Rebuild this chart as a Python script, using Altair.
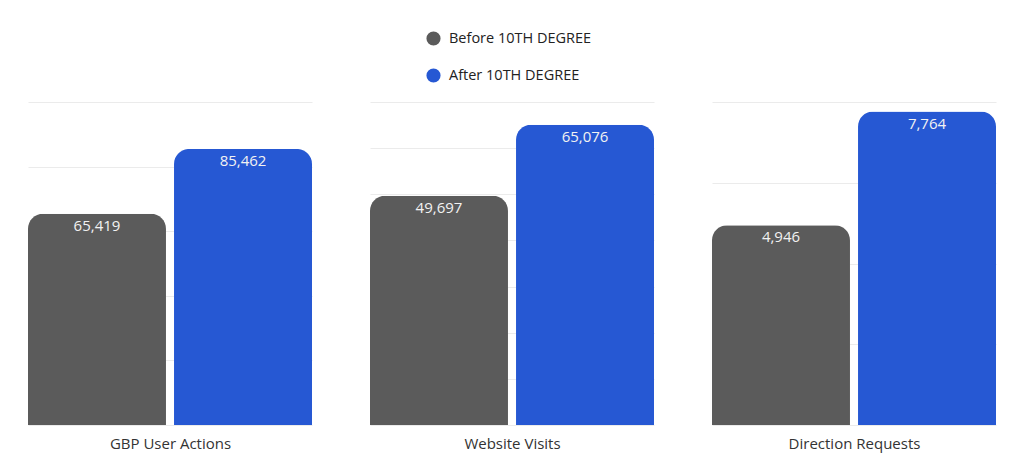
import altair as alt
import pandas as pd

panels = ["GBP User Actions", "Website Visits", "Direction Requests"]
series = ["Before 10TH DEGREE", "After 10TH DEGREE"]
before = [65419, 49697, 4946]
after = [85462, 65076, 7764]
y_max = [100000, 70000, 8000]
y_step = [20000, 10000, 2000]
colors = ["#5b5b5b", "#2658d3"]

FONT = "Open Sans"

legend = alt.Legend(
    title=None, orient="none", legendX=398, legendY=-71, direction="vertical",
    symbolType="circle", symbolSize=200, symbolStrokeWidth=0,
    labelFontSize=14.5, labelFont=FONT, labelColor="#222222",
    rowPadding=21, labelOffset=8,
)

charts = []
for i, p in enumerate(panels):
    df = pd.DataFrame({"series": series, "value": [before[i], after[i]]})
    base = alt.Chart(df).encode(
        x=alt.X(
            "series:N", sort=series,
            scale=alt.Scale(paddingInner=0.055, paddingOuter=0),
            axis=alt.Axis(title=p, labels=False, ticks=False, domain=False,
                          titleFontSize=15, titleFont=FONT, titleFontWeight="normal",
                          titleColor="#333333", titlePadding=11, grid=False),
        ),
        y=alt.Y(
            "value:Q",
            scale=alt.Scale(domain=[0, y_max[i]], nice=False),
            axis=alt.Axis(title=None, labels=False, ticks=False, domain=False,
                          values=list(range(0, y_max[i] + 1, y_step[i])),
                          gridColor="#ebebeb", gridWidth=1),
        ),
    )
    bars = base.mark_bar(cornerRadiusTopLeft=15, cornerRadiusTopRight=15).encode(
        color=alt.Color("series:N", sort=series,
                        scale=alt.Scale(domain=series, range=colors),
                        legend=legend)
    )
    labels = base.mark_text(baseline="top", dy=5, color="#f2f2f2",
                            fontSize=15, font=FONT).encode(
        text=alt.Text("value:Q", format=",")
    )
    charts.append(alt.layer(bars, labels).properties(width=284, height=323))

chart = alt.hconcat(*charts, spacing=58).properties(
    padding={"left": 20, "top": 23, "right": 5, "bottom": 5}
).configure_view(stroke=None)

chart.save("out.html", embed_options={"renderer": "svg", "actions": False})
